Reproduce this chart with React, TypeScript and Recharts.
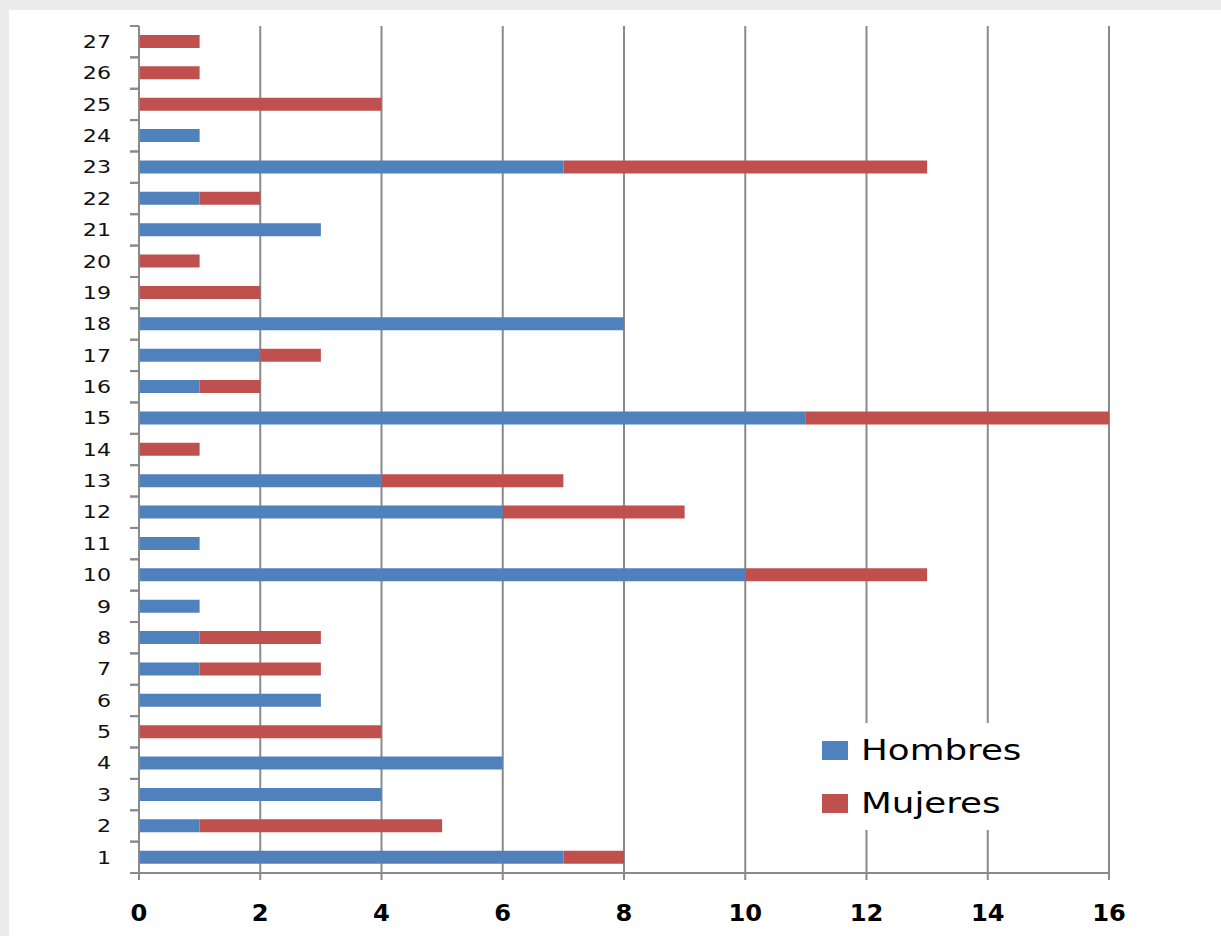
import React from "react";
import { BarChart, Bar, XAxis, YAxis, CartesianGrid } from "recharts";

// Respondent groups 1..27, bottom to top
const groups = [
  "1", "2", "3", "4", "5", "6", "7", "8", "9", "10", "11", "12", "13", "14",
  "15", "16", "17", "18", "19", "20", "21", "22", "23", "24", "25", "26", "27",
];
const hombres = [7, 1, 4, 6, 0, 3, 1, 1, 1, 10, 1, 6, 4, 0, 11, 1, 2, 8, 0, 0, 3, 1, 7, 1, 0, 0, 0];
const mujeres = [1, 4, 0, 0, 4, 0, 2, 2, 0, 3, 0, 3, 3, 1, 5, 1, 1, 0, 2, 1, 0, 1, 6, 0, 4, 1, 1];
const xTicks = [0, 2, 4, 6, 8, 10, 12, 14, 16];
const series = [
  { name: "Hombres", color: "#4F81BD" },
  { name: "Mujeres", color: "#C0504D" },
];

const GRID = "#8a8a8a";
const STRETCH = 1.23; // text is drawn slightly wide

const data = groups.map((g, i) => ({
  grupo: g,
  Hombres: hombres[i],
  Mujeres: mujeres[i],
}));

const AXIS_X = 139;
const PLOT_TOP = 26;
const PLOT_BOTTOM = 873;
const HALF_BAND = (PLOT_BOTTOM - PLOT_TOP) / groups.length / 2;

function CategoryTick(props: any) {
  const { y, payload } = props;
  return (
    <g>
      <line x1={AXIS_X - 9} x2={AXIS_X} y1={y - HALF_BAND} y2={y - HALF_BAND} stroke={GRID} strokeWidth={2} />
      <line x1={AXIS_X - 9} x2={AXIS_X} y1={y + HALF_BAND} y2={y + HALF_BAND} stroke={GRID} strokeWidth={2} />
      <g transform={`translate(${AXIS_X - 28}, ${y}) scale(${STRETCH}, 1)`}>
        <text
          x={0}
          y={0}
          textAnchor="end"
          dominantBaseline="central"
          fontFamily="DejaVu Sans"
          fontSize={18}
          fill="#111"
        >
          {payload.value}
        </text>
      </g>
    </g>
  );
}

function ValueTick(props: any) {
  const { x, payload } = props;
  return (
    <g transform={`translate(${x}, 913) scale(1.05, 1)`}>
      <text
        x={0}
        y={0}
        textAnchor="middle"
        dominantBaseline="central"
        fontFamily="DejaVu Sans"
        fontWeight="bold"
        fontSize={23}
        fill="#000"
      >
        {payload.value}
      </text>
    </g>
  );
}

function LegendBox() {
  return (
    <div
      style={{
        position: "absolute",
        left: 805,
        top: 723,
        width: 240,
        height: 107,
        background: "#fff",
      }}
    >
      {series.map((it, i) => (
        <div
          key={it.name}
          style={{
            position: "absolute",
            left: 17,
            top: 18 + i * 53,
            display: "flex",
            alignItems: "center",
          }}
        >
          <span style={{ width: 26, height: 19, background: it.color, display: "inline-block" }} />
          <span
            style={{
              marginLeft: 13,
              fontFamily: "DejaVu Sans",
              fontSize: 29,
              color: "#000",
              lineHeight: "19px",
              display: "inline-block",
              transform: `scaleX(${STRETCH})`,
              transformOrigin: "left center",
            }}
          >
            {it.name}
          </span>
        </div>
      ))}
    </div>
  );
}

export default function App() {
  return (
    <div
      style={{
        position: "absolute",
        left: 0,
        top: 0,
        width: 1221,
        height: 936,
        background: "#ececec",
        overflow: "hidden",
      }}
    >
      <div
        style={{
          position: "absolute",
          left: 9,
          top: 10,
          width: 1212,
          height: 926,
          background: "#fff",
        }}
      />
      <div style={{ position: "absolute", left: 0, top: 0 }}>
        <BarChart
          width={1221}
          height={936}
          data={data}
          layout="vertical"
          margin={{ top: PLOT_TOP, right: 112, bottom: 13, left: 79 }}
          barSize={13}
        >
          <CartesianGrid horizontal={false} stroke={GRID} strokeWidth={2} />
          <XAxis
            type="number"
            domain={[0, 16]}
            ticks={xTicks}
            interval={0}
            height={50}
            axisLine={{ stroke: GRID, strokeWidth: 2 }}
            tickLine={{ stroke: GRID, strokeWidth: 2 }}
            tickSize={7}
            tick={<ValueTick />}
          />
          <YAxis
            type="category"
            dataKey="grupo"
            reversed
            width={60}
            interval={0}
            axisLine={{ stroke: GRID, strokeWidth: 2 }}
            tickLine={false}
            tickSize={0}
            tick={<CategoryTick />}
          />
          {series.map((s) => (
            <Bar key={s.name} dataKey={s.name} stackId="a" fill={s.color} isAnimationActive={false} />
          ))}
        </BarChart>
      </div>
      <LegendBox />
    </div>
  );
}
